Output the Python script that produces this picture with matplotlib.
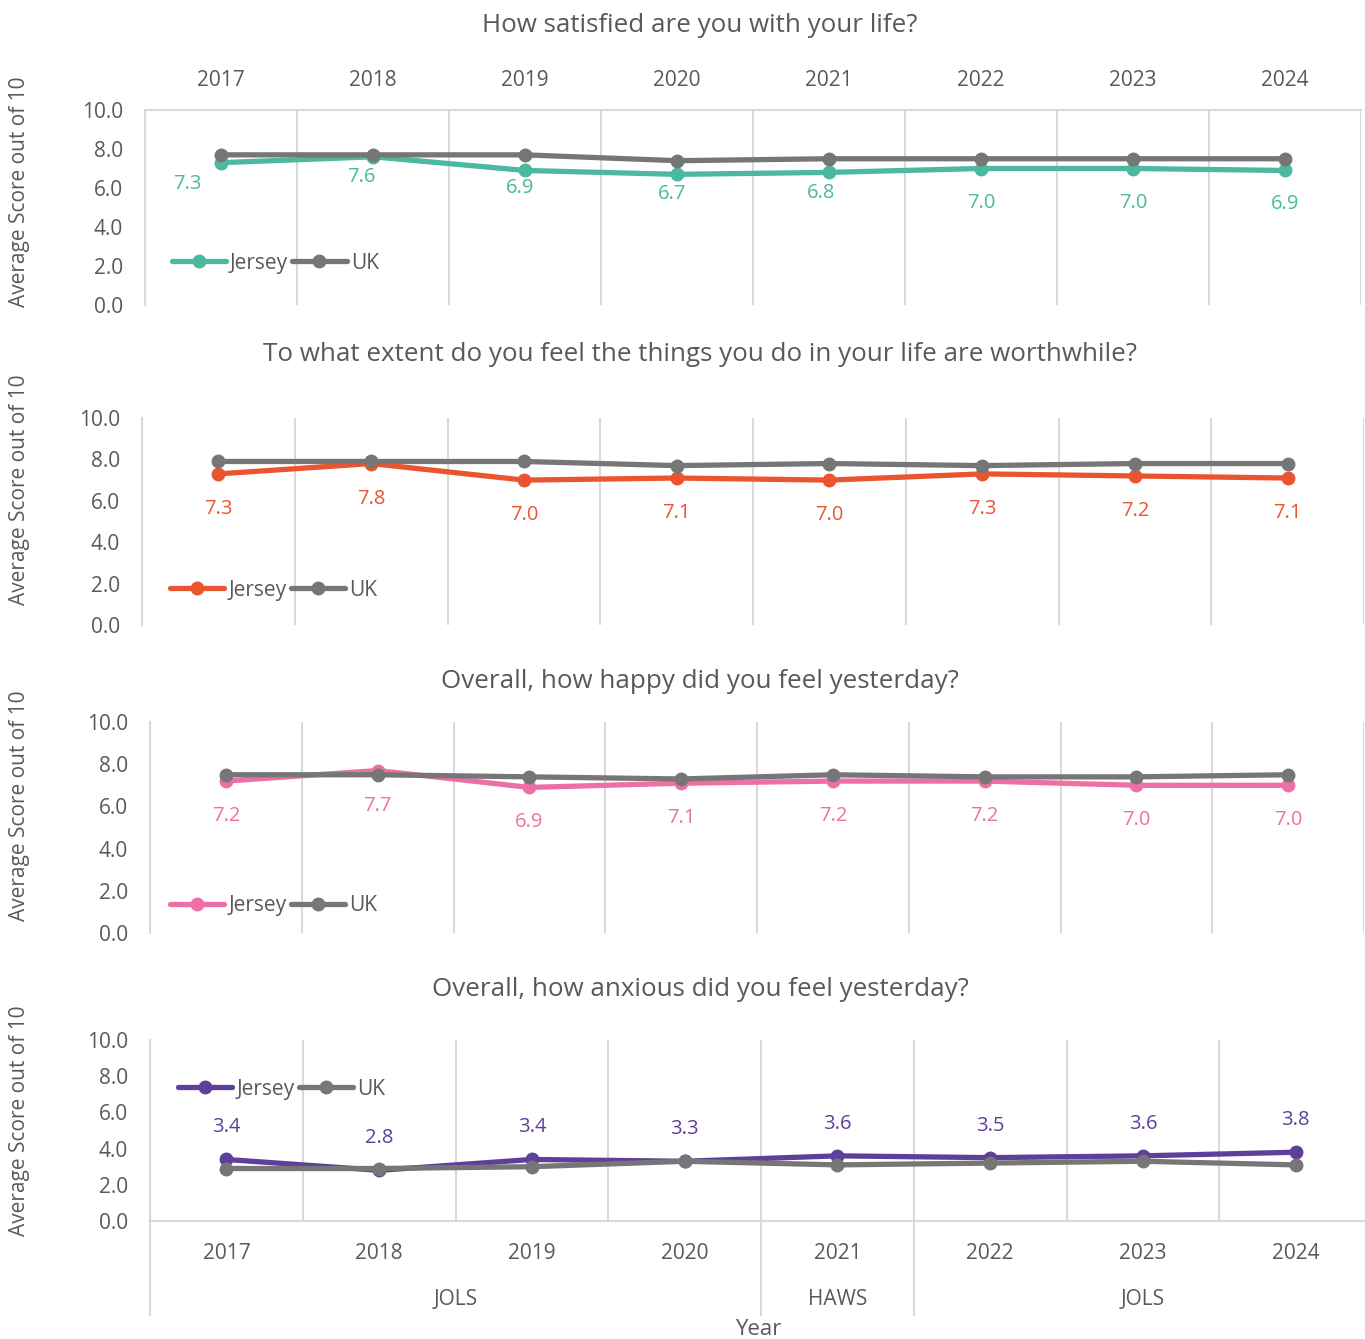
import matplotlib.pyplot as plt

plt.rcParams['font.family'] = ['Open Sans', 'DejaVu Sans']

# survey years and the wellbeing scores (average out of 10)
years = ['2017', '2018', '2019', '2020', '2021', '2022', '2023', '2024']

jersey_life = [7.3, 7.6, 6.9, 6.7, 6.8, 7.0, 7.0, 6.9]
uk_life = [7.7, 7.7, 7.7, 7.4, 7.5, 7.5, 7.5, 7.5]

jersey_worth = [7.3, 7.8, 7.0, 7.1, 7.0, 7.3, 7.2, 7.1]
uk_worth = [7.9, 7.9, 7.9, 7.7, 7.8, 7.7, 7.8, 7.8]

jersey_happy = [7.2, 7.7, 6.9, 7.1, 7.2, 7.2, 7.0, 7.0]
uk_happy = [7.5, 7.5, 7.4, 7.3, 7.5, 7.4, 7.4, 7.5]

jersey_anx = [3.4, 2.8, 3.4, 3.3, 3.6, 3.5, 3.6, 3.8]
uk_anx = [2.9, 2.9, 3.0, 3.3, 3.1, 3.2, 3.3, 3.1]

# which survey each year came from
survey_names = ['JOLS', 'HAWS', 'JOLS']
survey_spans = [(0, 3), (4, 4), (5, 7)]

titles = ['How satisfied are you with your life?',
          'To what extent do you feel the things you do in your life are worthwhile?',
          'Overall, how happy did you feel yesterday?',
          'Overall, how anxious did you feel yesterday?']

W, H = 1365, 1339
GREY_TXT = '#595959'
GRID = '#d9d9d9'
UK_COL = '#767676'

# pixel boxes (left, top, right, bottom), title y, ylabel centre, legend anchor, label offsets
panels = [
    dict(jer=jersey_life, uk=uk_life, col='#4bb89f', box=(145, 110, 1361, 305),
         ty=26, yl=192, leg=(0.022, 0.215),
         offs=[(-34, 21), (-12, 20), (-5, 18), (-5, 20), (-8, 21), (0, 34), (0, 34), (0, 34)]),
    dict(jer=jersey_worth, uk=uk_worth, col='#ea5530', box=(142, 418, 1364, 625),
         ty=355, yl=490, leg=(0.023, 0.169), offs=[(0, 35)] * 8),
    dict(jer=jersey_happy, uk=uk_happy, col='#ec70a6', box=(150, 722, 1364, 933),
         ty=682, yl=806, leg=(0.0165, 0.128), offs=[(0, 35)] * 8),
    dict(jer=jersey_anx, uk=uk_anx, col='#5e3f99', box=(150, 1040, 1372, 1221),
         ty=989, yl=1121, leg=(0.023, 0.729), offs=[(0, -32)] * 8),
]

fig = plt.figure(figsize=(W / 100, H / 100), dpi=100)
x = list(range(len(years)))

for i, p in enumerate(panels):
    l, t, r, b = p['box']
    ax = fig.add_axes([l / W, 1 - b / H, (r - l) / W, (b - t) / H])

    ax.plot(x, p['jer'], color=p['col'], lw=3.8, marker='o', ms=9,
            solid_capstyle='round', label='Jersey', zorder=3)
    ax.plot(x, p['uk'], color=UK_COL, lw=3.8, marker='o', ms=9,
            solid_capstyle='round', label='UK', zorder=4)

    for xi, v, (dx, dy) in zip(x, p['jer'], p['offs']):
        ax.annotate(f'{v:.1f}', (xi, v), xytext=(dx, -dy), textcoords='offset pixels',
                    ha='center', va='center', color=p['col'], fontsize=14.5, zorder=5)

    ax.set_xlim(-0.5, len(years) - 0.5)
    ax.set_ylim(0, 10)
    ax.set_yticks([0, 2, 4, 6, 8, 10])
    ax.set_yticklabels([f'{v:.1f}' for v in [0, 2, 4, 6, 8, 10]])
    ax.tick_params(axis='y', length=0, pad=16, labelsize=15, labelcolor=GREY_TXT)

    # category boundaries as vertical gridlines
    ax.set_xticks([k - 0.5 for k in range(len(years) + 1)], minor=True)
    ax.grid(True, which='minor', axis='x', color=GRID, lw=1.5)
    ax.tick_params(axis='x', which='minor', length=0)

    for s in ['top', 'right', 'bottom']:
        ax.spines[s].set_visible(False)
    ax.spines['left'].set_color(GRID)
    ax.spines['left'].set_linewidth(1.5)

    if i == 0:
        ax.spines['top'].set_visible(True)
        ax.spines['top'].set_color(GRID)
        ax.spines['top'].set_linewidth(1.5)
        ax.xaxis.tick_top()
        ax.set_xticks(x)
        ax.set_xticklabels(years)
        ax.tick_params(axis='x', which='major', length=0, pad=14, labelsize=15,
                       labelcolor=GREY_TXT)
    elif i == 3:
        ax.spines['bottom'].set_visible(True)
        ax.spines['bottom'].set_color(GRID)
        ax.spines['bottom'].set_linewidth(1.5)
        ax.set_xticks(x)
        ax.set_xticklabels(years)
        ax.tick_params(axis='x', which='major', length=0, pad=16, labelsize=15,
                       labelcolor=GREY_TXT)
        tr = ax.get_xaxis_transform()
        for name, (s0, s1) in zip(survey_names, survey_spans):
            ax.text((s0 + s1) / 2, -0.431, name, transform=tr, ha='center', va='center',
                    fontsize=15, color=GREY_TXT)
        for sep in [-0.5, 3.5, 4.5]:
            ax.plot([sep, sep], [0, -0.52], transform=tr, color=GRID, lw=1.5, clip_on=False)
        ax.text(3.48, -0.6, 'Year', transform=tr, ha='center', va='center',
                fontsize=16, color=GREY_TXT)
    else:
        ax.set_xticks([])

    leg = ax.legend(loc='center left', bbox_to_anchor=p['leg'], ncol=2, frameon=False,
                    fontsize=15, handlelength=2.6, handletextpad=0.2, columnspacing=0.2,
                    borderpad=0, borderaxespad=0)
    for txt in leg.get_texts():
        txt.set_color(GREY_TXT)

    fig.text(700 / W, 1 - p['ty'] / H, titles[i], ha='center', va='center',
             fontsize=18.7, color=GREY_TXT)
    fig.text(20 / W, 1 - p['yl'] / H, 'Average Score out of 10', rotation=90,
             ha='center', va='center', fontsize=15, color=GREY_TXT)

fig.savefig('out.png', dpi=100, facecolor='white')
